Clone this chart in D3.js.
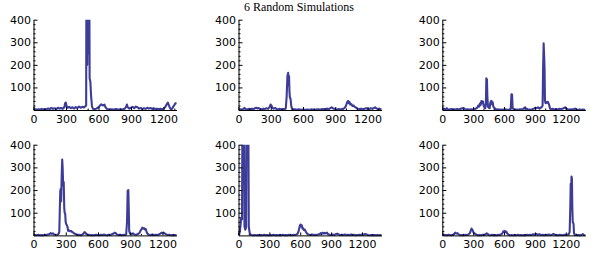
<!DOCTYPE html>
<html><head><meta charset="utf-8">
<script src="https://cdn.jsdelivr.net/npm/d3@7"></script>
<style>
html,body{margin:0;padding:0;background:#fff;}
svg{display:block;}
</style></head>
<body>
<svg id="c" width="600" height="256"></svg>
<script>
const title = "6 Random Simulations";
const xTicks = [0, 300, 600, 900, 1200];
const yTicks = [100, 200, 300, 400];
const yMinor = [20,40,60,80,120,140,160,180,220,240,260,280,320,340,360,380];
const xMinor = [100,200,400,500,700,800,1000,1100,1300];
const lengths = [1320, 1330, 1390, 1330, 1390, 1390];

const sim1 = [[0,2],[15,4],[30,1],[45,3],[60,2],[75,5],[90,2],[105,4],[120,3],[135,7],[150,4],[165,9],[180,5],[195,8],[210,4],[225,10],[240,6],[255,9],[270,5],[285,12],[292,30],[298,33],[305,18],[315,10],[330,14],[345,8],[360,12],[375,7],[390,13],[405,9],[420,15],[435,10],[450,14],[465,11],[478,16],[486,20],[490,900],[496,200],[501,900],[507,250],[513,900],[518,140],[525,125],[532,60],[540,15],[550,5],[565,3],[580,6],[595,10],[610,18],[625,25],[640,20],[655,24],[665,12],[680,4],[700,2],[720,3],[740,2],[760,4],[780,2],[800,3],[820,2],[840,5],[855,14],[862,24],[870,12],[885,6],[900,10],[915,14],[930,8],[945,15],[960,12],[975,6],[990,9],[1005,4],[1020,8],[1035,5],[1050,10],[1065,6],[1080,9],[1095,5],[1110,8],[1125,4],[1140,6],[1155,3],[1170,5],[1185,3],[1200,6],[1215,12],[1230,25],[1240,33],[1250,20],[1260,8],[1270,3],[1280,6],[1290,15],[1300,22],[1310,30],[1320,28]];

const sim2 = [[0,1],[15,3],[30,2],[45,5],[55,9],[65,4],[80,2],[95,5],[110,3],[125,6],[140,4],[155,8],[165,10],[175,7],[185,9],[200,4],[215,3],[230,6],[245,4],[260,8],[275,5],[288,12],[298,24],[306,20],[315,10],[325,6],[340,9],[355,4],[370,3],[385,5],[400,2],[415,4],[430,3],[440,8],[448,60],[455,150],[462,165],[466,110],[470,150],[474,80],[478,55],[484,50],[490,20],[498,5],[510,2],[525,3],[540,1],[560,3],[580,1],[600,2],[620,1],[640,2],[660,1],[680,3],[700,1],[720,2],[740,3],[760,2],[780,4],[800,3],[820,6],[840,4],[855,8],[865,12],[875,9],[890,5],[905,3],[920,2],[935,4],[950,2],[965,5],[975,5],[990,10],[1000,20],[1010,34],[1018,40],[1025,30],[1032,36],[1040,24],[1050,26],[1060,18],[1070,20],[1080,14],[1095,10],[1110,6],[1125,4],[1140,6],[1155,3],[1170,5],[1185,8],[1200,6],[1215,4],[1230,8],[1245,5],[1260,9],[1270,12],[1280,8],[1295,4],[1310,6],[1320,3],[1330,2]];

const sim3 = [[0,2],[15,5],[30,3],[43,8],[55,3],[70,2],[85,4],[100,2],[115,3],[130,2],[145,4],[160,2],[175,5],[190,7],[204,9],[218,5],[232,2],[250,3],[265,1],[280,3],[295,2],[310,4],[325,6],[340,10],[350,20],[358,15],[365,28],[372,22],[380,40],[388,30],[395,38],[402,20],[410,12],[418,8],[424,30],[428,140],[434,135],[438,60],[444,15],[452,10],[460,8],[466,30],[472,38],[478,40],[484,25],[490,34],[496,15],[505,10],[515,5],[530,2],[545,3],[560,1],[575,2],[590,1],[605,3],[620,2],[635,1],[650,2],[665,4],[672,70],[678,68],[684,8],[695,3],[710,1],[725,2],[740,1],[755,3],[770,2],[785,5],[795,8],[805,12],[815,6],[830,3],[845,2],[860,1],[875,3],[890,6],[905,10],[918,8],[930,12],[945,6],[958,10],[968,14],[975,20],[980,190],[985,295],[990,240],[994,185],[998,40],[1004,30],[1010,36],[1018,32],[1026,36],[1034,28],[1040,20],[1048,6],[1060,3],[1075,5],[1090,2],[1105,4],[1120,2],[1135,5],[1150,3],[1165,6],[1180,8],[1194,12],[1205,6],[1220,3],[1235,2],[1250,3],[1265,2],[1280,4],[1291,6],[1305,2],[1320,1],[1335,2],[1350,1],[1365,2],[1380,1],[1390,1]];

const sim4 = [[0,1],[15,2],[30,1],[45,3],[60,1],[75,2],[90,1],[105,3],[120,2],[135,4],[150,6],[160,10],[170,7],[180,9],[192,4],[205,2],[220,3],[232,6],[240,15],[245,120],[249,195],[253,205],[257,150],[262,260],[267,335],[271,300],[276,220],[281,235],[286,120],[290,100],[295,95],[299,60],[304,50],[310,45],[316,38],[322,20],[330,22],[340,18],[350,20],[360,15],[370,12],[380,8],[395,5],[410,2],[425,3],[440,1],[455,4],[465,8],[475,15],[482,12],[490,6],[505,2],[520,3],[535,1],[550,2],[565,1],[580,3],[595,2],[610,1],[625,3],[640,2],[655,4],[670,2],[685,1],[700,3],[715,2],[730,5],[745,8],[755,12],[765,10],[775,4],[790,2],[805,3],[820,1],[835,3],[850,2],[862,5],[870,60],[876,198],[882,200],[886,120],[890,20],[898,8],[910,5],[925,9],[940,4],[955,3],[970,6],[985,10],[995,20],[1005,28],[1012,34],[1020,30],[1028,32],[1036,26],[1044,28],[1052,15],[1062,6],[1075,3],[1090,2],[1105,4],[1120,2],[1135,3],[1150,2],[1165,4],[1180,8],[1190,12],[1200,10],[1210,13],[1222,8],[1235,4],[1250,2],[1265,3],[1280,1],[1295,2],[1310,1],[1330,2]];

const sim5 = [[0,2],[8,6],[14,20],[20,45],[26,78],[34,70],[42,900],[50,900],[58,40],[66,25],[74,35],[82,900],[92,900],[100,40],[108,12],[116,4],[126,2],[140,1],[160,2],[175,1],[190,2],[205,1],[220,2],[235,1],[250,3],[265,1],[280,2],[295,1],[310,2],[325,1],[340,3],[355,1],[370,2],[385,1],[400,2],[415,1],[430,3],[445,1],[460,2],[475,1],[490,3],[505,2],[520,1],[535,3],[550,2],[565,4],[575,8],[585,20],[592,35],[598,45],[604,48],[610,38],[616,44],[622,30],[628,32],[636,24],[644,26],[652,18],[660,12],[670,6],[685,3],[700,2],[715,4],[730,2],[745,3],[760,2],[775,4],[790,6],[800,10],[810,7],[820,12],[830,8],[840,11],[850,9],[860,12],[870,6],[885,3],[900,2],[915,4],[930,2],[945,5],[960,8],[975,4],[990,2],[1005,3],[1020,2],[1035,4],[1050,2],[1065,3],[1080,2],[1095,4],[1110,2],[1125,3],[1140,1],[1155,2],[1170,3],[1185,2],[1200,4],[1215,3],[1230,6],[1245,4],[1260,2],[1275,1],[1290,2],[1305,1],[1320,2],[1335,1],[1350,2],[1365,1],[1380,2],[1390,1]];

const sim6 = [[0,1],[15,3],[30,2],[45,1],[60,3],[75,2],[90,1],[105,3],[115,6],[125,12],[135,8],[145,10],[155,6],[165,3],[180,1],[195,2],[210,1],[225,3],[240,2],[255,4],[268,10],[276,20],[284,30],[290,26],[296,22],[302,14],[310,10],[320,6],[335,3],[350,1],[365,2],[380,1],[395,3],[410,2],[422,5],[432,9],[442,5],[455,2],[470,1],[485,3],[500,1],[515,2],[530,1],[545,3],[560,2],[575,5],[585,10],[593,18],[600,15],[608,20],[616,14],[624,16],[632,8],[645,3],[660,1],[675,2],[690,1],[705,2],[720,1],[735,3],[750,1],[765,2],[780,1],[795,2],[810,1],[825,3],[840,2],[855,3],[870,2],[885,5],[900,3],[915,6],[930,3],[945,5],[960,2],[975,3],[990,1],[1005,3],[1020,2],[1035,4],[1050,2],[1065,3],[1080,6],[1095,3],[1110,2],[1125,1],[1140,3],[1155,2],[1170,1],[1185,3],[1200,2],[1215,4],[1228,3],[1238,15],[1244,120],[1248,228],[1252,200],[1256,260],[1260,250],[1264,120],[1268,60],[1272,55],[1276,50],[1280,10],[1288,2],[1300,3],[1315,1],[1330,2],[1345,1],[1358,3],[1366,6],[1375,2],[1390,1]];

const sims = [sim1, sim2, sim3, sim4, sim5, sim6];

const svg = d3.select("#c");
const colX = [33.5, 238.5, 442.3];
const rowBottom = [110, 235.4];
const rowTop = [19.7, 144.7];
const plotW = 143;
const lineColor = "#3d3d99";
const tickFont = "'DejaVu Sans', sans-serif";

svg.append("text").attr("x", 299).attr("y", 10.5)
  .attr("text-anchor", "middle")
  .style("font-family", "'Liberation Serif', 'Times New Roman', serif")
  .style("font-size", "12px").attr("fill", "#000").text(title);

sims.forEach((data, i) => {
  const col = i % 3, row = Math.floor(i / 3);
  const x0 = colX[col];
  const x = d3.scaleLinear().domain([0, lengths[i]]).range([x0, x0 + plotW]);
  const y = d3.scaleLinear().domain([0, 400]).range([rowBottom[row], rowTop[row]]);
  const g = svg.append("g");
  const clipId = "clip" + i;
  svg.append("clipPath").attr("id", clipId).append("rect")
    .attr("x", x0 - 2).attr("y", rowTop[row]).attr("width", plotW + 6)
    .attr("height", rowBottom[row] - rowTop[row] + 2);

  g.append("path").datum(data)
    .attr("clip-path", `url(#${clipId})`)
    .attr("fill", "none").attr("stroke", lineColor)
    .attr("stroke-width", 2.1).attr("stroke-linejoin", "round")
    .attr("d", d3.line().x(d => x(d[0])).y(d => y(d[1])));

  g.append("g").attr("transform", `translate(0,${rowBottom[row]})`)
    .call(d3.axisBottom(x).tickValues(xTicks).tickFormat(d3.format("d"))
      .tickSizeInner(-3).tickSizeOuter(0).tickPadding(5));
  g.append("g").attr("transform", `translate(0,${rowBottom[row]})`)
    .call(d3.axisBottom(x).tickValues(xMinor.filter(v => v <= lengths[i])).tickFormat("")
      .tickSizeInner(-1.5).tickSizeOuter(0))
    .select(".domain").remove();
  g.append("g").attr("transform", `translate(${x0},0)`)
    .call(d3.axisLeft(y).tickValues(yTicks).tickFormat(d3.format("d"))
      .tickSizeInner(-4).tickSizeOuter(0).tickPadding(2.5));
  g.append("g").attr("transform", `translate(${x0},0)`)
    .call(d3.axisLeft(y).tickValues(yMinor).tickFormat("")
      .tickSizeInner(-2).tickSizeOuter(0))
    .select(".domain").remove();

  g.selectAll(".tick text").style("font-family", tickFont).style("font-size", "11px").attr("fill", "#000");
  g.selectAll(".domain, .tick line").attr("stroke", "#000").attr("stroke-width", 1);
});
</script>
</body></html>
